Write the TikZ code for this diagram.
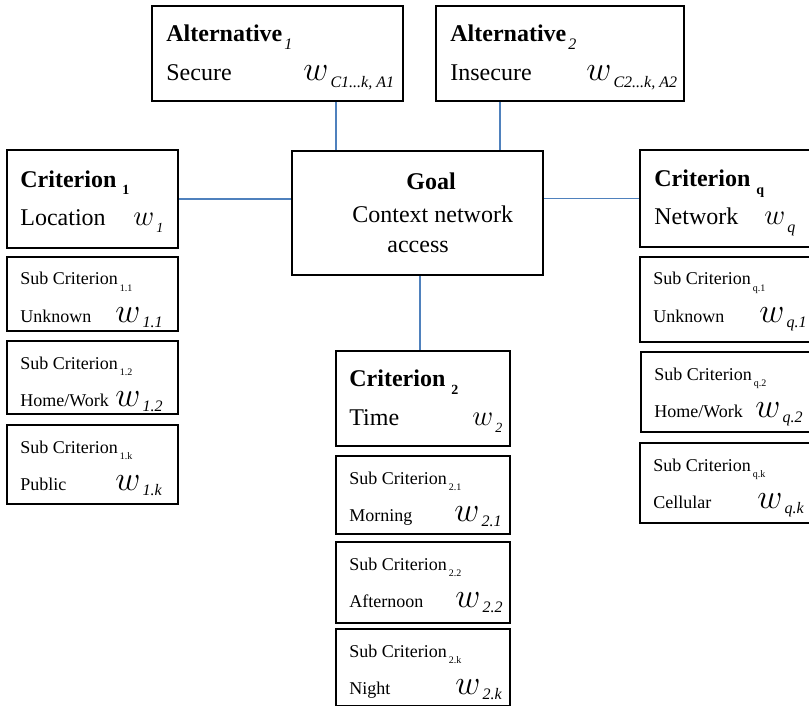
\documentclass[tikz,border=0pt]{standalone}
\usepackage{fontspec}
\setmainfont{Liberation Serif}
\usetikzlibrary{calc}
\definecolor{linkblue}{RGB}{79,129,189}
\newcommand{\lowsub}[3]{\raisebox{-#1}{\fontsize{#2}{#2}\selectfont #3}}
\begin{document}
\begin{tikzpicture}[x=0.5pt,y=-0.5pt,
  box/.style={draw,line width=1pt,anchor=north west,inner sep=0pt},
  link/.style={draw=linkblue,line width=0.8pt},
  ttl/.style={anchor=base west,inner sep=0pt,font=\fontsize{12}{14}\selectfont\bfseries},
  lbl/.style={anchor=base west,inner sep=0pt,font=\fontsize{12}{14}\selectfont},
  stxt/.style={anchor=base west,inner sep=0pt,font=\fontsize{9}{11}\selectfont},
  wgt/.style={anchor=base west,inner sep=0pt,font=\fontsize{15}{15}\selectfont},
  swgt/.style={anchor=base west,inner sep=0pt,font=\fontsize{16}{16}\selectfont}]
  \useasboundingbox (0,0) rectangle (809,706);
  % alternatives
  \node[box,minimum width=125.5pt,minimum height=47.5pt] (a1) at (151,5) {};
  \node[ttl] (a1t) at ($(a1.north west)+(15,37)$) {Alternative\kern1pt\lowsub{4pt}{8}{\mdseries\itshape 1}};
  \node[lbl] (a1n) at ($(a1.north west)+(15,76)$) {Secure};
  \node[swgt,font=\fontsize{17}{17}\selectfont] (a1w) at ($(a1.north west)+(152,76)$) {$w$\kern1pt\lowsub{3.5pt}{8}{\itshape C1...k, A1}};
  \node[box,minimum width=124pt,minimum height=47.5pt] (a2) at (435,5) {};
  \node[ttl] (a2t) at ($(a2.north west)+(15,37)$) {Alternative\kern1pt\lowsub{4pt}{8}{\mdseries\itshape 2}};
  \node[lbl] (a2n) at ($(a2.north west)+(15,76)$) {Insecure};
  \node[swgt,font=\fontsize{17}{17}\selectfont] (a2w) at ($(a2.north west)+(151,76)$) {$w$\kern1pt\lowsub{3.5pt}{8}{\itshape C2...k, A2}};
  % goal
  \node[box,minimum width=125.5pt,minimum height=62pt] (goal) at (291,150) {};
  \node[ttl,anchor=base] (goalt) at ($(goal.north west)+(140,40)$) {Goal};
  \node[lbl] (goaln) at ($(goal.north west)+(61,72)$) {Context network};
  \node[lbl] (goalm) at ($(goal.north west)+(96,102)$) {access};
  % criteria
  \node[box,minimum width=85.5pt,minimum height=49pt] (c1) at (6,149) {};
  \node[ttl] (c1t) at ($(c1.north west)+(14,38)$) {Criterion \lowsub{4pt}{7}{1}};
  \node[lbl] (c1n) at ($(c1.north west)+(14,77)$) {Location};
  \node[wgt] (c1w) at ($(c1.north west)+(127,77)$) {$w$\kern1pt\lowsub{3.5pt}{7}{\itshape 1}};
  \node[box,minimum width=85pt,minimum height=48.5pt] (cq) at (639,149) {};
  \node[ttl] (cqt) at ($(cq.north west)+(15,37)$) {Criterion \lowsub{4pt}{7}{q}};
  \node[lbl] (cqn) at ($(cq.north west)+(15,76)$) {Network};
  \node[wgt] (cqw) at ($(cq.north west)+(125,76)$) {$w$\kern1pt\lowsub{3.5pt}{8}{\itshape q}};
  \node[box,minimum width=87pt,minimum height=47.5pt] (c2) at (335,350) {};
  \node[ttl] (c2t) at ($(c2.north west)+(14,36)$) {Criterion \lowsub{4pt}{7}{2}};
  \node[lbl] (c2n) at ($(c2.north west)+(14,75)$) {Time};
  \node[wgt] (c2w) at ($(c2.north west)+(137,75)$) {$w$\kern1pt\lowsub{3.5pt}{7}{\itshape 2}};
  % sub criteria
  \foreach \id/\x/\t/\bw/\h/\nm/\s/\wx in {
      11/6/256/171/74/Unknown/1.1/109, 12/6/340/171/73/Home\slash Work/1.2/109, 1k/6/424/171/79/Public/1.k/109,
      q1/639/256/170/85/Unknown/q.1/120, q2/640/351/169/80/Home\slash Work/q.2/115, qk/639/442/170/80/Cellular/q.k/118,
      21/335/455/174/78/Morning/2.1/119, 22/335/541/174/81/Afternoon/2.2/120, 2k/335/628/174/77/Night/2.k/120} {
    \node[box,minimum width=\bw*0.5pt,minimum height=\h*0.5pt] (s\id) at (\x,\t) {};
    \node[stxt] (s\id t) at ($(s\id.north west)+(14,29)$) {Sub Criterion\kern1pt\lowsub{3pt}{5}{\s}};
    \node[stxt] (s\id n) at ($(s\id.north west)+(14,66)$) {\nm};
    \node[swgt] (s\id w) at ($(s\id.north west)+(\wx,66)$) {$w$\kern1pt\lowsub{2.5pt}{8}{\itshape\s}};
  }
  % links
  \coordinate (ja) at (336,0);
  \coordinate (jb) at (500,0);
  \coordinate (jc) at (420,0);
  \draw[link] (ja |- a1.south) -- (ja |- goal.north);
  \draw[link] (jb |- a2.south) -- (jb |- goal.north);
  \draw[link] (c1.east) -- (c1.east -| goal.west);
  \draw[link] (cq.west) -- (cq.west -| goal.east);
  \draw[link] (jc |- goal.south) -- (jc |- c2.north);
\end{tikzpicture}
\end{document}
